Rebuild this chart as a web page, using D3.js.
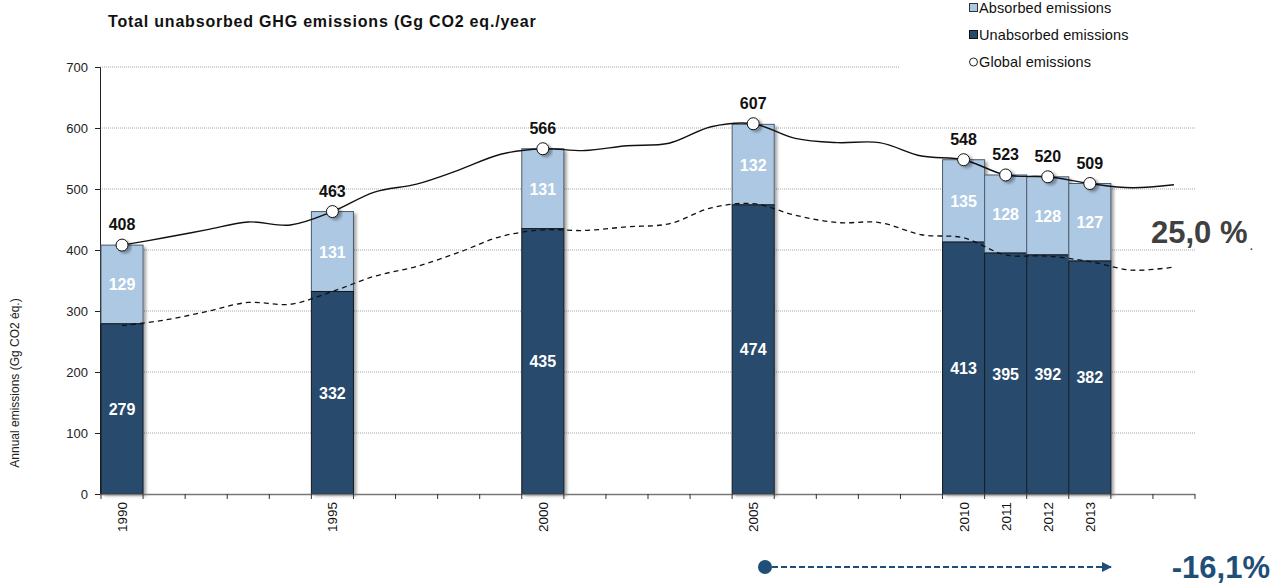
<!DOCTYPE html>
<html><head><meta charset="utf-8">
<script src="https://cdn.jsdelivr.net/npm/d3@7"></script>
<style>body{margin:0;background:#fff;} svg{display:block;font-family:"Liberation Sans",Arial,sans-serif;}</style>
</head><body>
<script>
const axisYears = [1990,1991,1992,1993,1994,1995,1996,1997,1998,1999,2000,2001,2002,2003,2004,2005,2006,2007,2008,2009,2010,2011,2012,2013,2014,2015];
const barYears = [1990,1995,2000,2005,2010,2011,2012,2013];
const unabsorbed = [279,332,435,474,413,395,392,382];
const absorbed = [129,131,131,132,135,128,128,127];
const globalTotals = [408,463,566,607,548,523,520,509];
const globalLine = [408,420,433,446,441,463,495,508,531,557,566,563,571,575,602,607,583,576,576,554,548,523,520,509,502,507];
const unabsorbedLine = [276,285,299,314,311,332,357,373,396,422,433,432,438,443,469,476,457,445,445,425,420,392,390,381,367,372];
const yTicks = [0,100,200,300,400,500,600,700];
const title = "Total unabsorbed GHG emissions (Gg CO2 eq./year";
const yTitle = "Annual emissions (Gg CO2 éq.)";
const legendItems = ["Absorbed emissions","Unabsorbed emissions","Global emissions"];
const shareText = "25,0 %";
const changeText = "-16,1%";

const W = 1272, H = 584;
const cLight = "#adc8e2", cDark = "#284a6d";
const svg = d3.select("body").append("svg").attr("width", W).attr("height", H);
const defs = svg.append("defs");
const f = defs.append("filter").attr("id","sh").attr("x","-20%").attr("y","-20%").attr("width","150%").attr("height","150%");
f.append("feDropShadow").attr("dx",3).attr("dy",2).attr("stdDeviation",1.8).attr("flood-color","#000").attr("flood-opacity",0.35);
defs.append("marker").attr("id","arr").attr("viewBox","0 0 10 10").attr("refX",10).attr("refY",5)
  .attr("markerWidth",5).attr("markerHeight",5).attr("markerUnits","strokeWidth").attr("orient","auto")
  .append("path").attr("d","M0,0L10,5L0,10Z").attr("fill","#1f4e79");

const x = d3.scaleBand().domain(axisYears).range([101,1195]).padding(0);
const y = d3.scaleLinear().domain([0,700]).range([494,67]);
const cx = d => x(d) + x.bandwidth()/2;

// gridlines
svg.append("g").selectAll("line").data(yTicks.filter(t=>t>0)).join("line")
  .attr("x1",100).attr("x2",t=> t===700 ? 900 : 1195)
  .attr("y1",t=>y(t)).attr("y2",t=>y(t))
  .attr("stroke","#a6a6a6").attr("stroke-width",1).attr("stroke-dasharray","1,1");

// y axis
const ya = svg.append("g").attr("transform","translate(100,0)")
  .call(d3.axisLeft(y).tickValues(yTicks).tickSize(5).tickPadding(7));
ya.select(".domain").attr("stroke","#222");
ya.selectAll(".tick line").attr("stroke","#222");
ya.selectAll("text").attr("font-size",13).attr("fill","#222").attr("font-family","Liberation Sans, Arial");

// bars
const bars = svg.append("g").selectAll("g").data(barYears.map((yr,i)=>({yr,u:unabsorbed[i],a:absorbed[i],t:globalTotals[i]}))).join("g");
bars.append("rect").attr("x",d=>x(d.yr)).attr("width",x.bandwidth())
  .attr("y",d=>y(d.u+d.a)).attr("height",d=>y(0)-y(d.u+d.a))
  .attr("fill","#fff").attr("filter","url(#sh)");
bars.append("rect").attr("x",d=>x(d.yr)).attr("width",x.bandwidth())
  .attr("y",d=>y(d.u+d.a)).attr("height",d=>y(d.u)-y(d.u+d.a))
  .attr("fill",cLight).attr("stroke","#4a5a6a").attr("stroke-width",1);
bars.append("rect").attr("x",d=>x(d.yr)).attr("width",x.bandwidth())
  .attr("y",d=>y(d.u)).attr("height",d=>y(0)-y(d.u))
  .attr("fill",cDark).attr("stroke","#101820").attr("stroke-width",1);
bars.append("text").attr("x",d=>cx(d.yr)).attr("y",d=>y(d.u+d.a/2)+6)
  .attr("text-anchor","middle").attr("font-size",16).attr("font-weight","bold").attr("fill","#fff").text(d=>d.a);
bars.append("text").attr("x",d=>cx(d.yr)).attr("y",d=>y(d.u/2)+6)
  .attr("text-anchor","middle").attr("font-size",16).attr("font-weight","bold").attr("fill","#fff").text(d=>d.u);

// x axis
svg.append("line").attr("x1",100).attr("x2",1195).attr("y1",494.5).attr("y2",494.5).attr("stroke","#777").attr("stroke-width",1.5);
svg.append("g").selectAll("line").data(axisYears.concat([null])).join("line")
  .attr("x1",(d,i)=> i<axisYears.length ? x(d) : 1195).attr("x2",(d,i)=> i<axisYears.length ? x(d) : 1195)
  .attr("y1",494).attr("y2",499).attr("stroke","#333");
svg.append("g").selectAll("text").data(barYears).join("text")
  .attr("transform",d=>`translate(${cx(d)+5},502) rotate(-90)`)
  .attr("text-anchor","end").attr("font-size",13.5).attr("fill","#111").text(d=>d);

// lines
const lineGen = d3.line().x((d,i)=>cx(axisYears[i])).y(d=>y(d)).curve(d3.curveCatmullRom.alpha(0.5));
svg.append("path").attr("d",lineGen(unabsorbedLine)).attr("fill","none").attr("stroke","#111").attr("stroke-width",1.3).attr("stroke-dasharray","5,4");
svg.append("path").attr("d",lineGen(globalLine)).attr("fill","none").attr("stroke","#111").attr("stroke-width",1.4);

// dots and totals
const pts = svg.append("g").selectAll("g").data(barYears.map((yr,i)=>({yr,t:globalTotals[i]}))).join("g");
pts.append("circle").attr("cx",d=>cx(d.yr)).attr("cy",d=>y(d.t)).attr("r",6)
  .attr("fill","#fff").attr("stroke","#111").attr("stroke-width",1).attr("filter","url(#sh)");
pts.append("text").attr("x",d=>cx(d.yr)).attr("y",d=>y(d.t)-15)
  .attr("text-anchor","middle").attr("font-size",16).attr("font-weight","bold").attr("fill","#111").text(d=>d.t);

// title
svg.append("text").attr("x",108).attr("y",27).attr("font-size",16).attr("letter-spacing",0.8).attr("font-weight","bold").attr("fill","#111").text(title);
// y title
svg.append("text").attr("transform","translate(19,383) rotate(-90)").attr("text-anchor","middle")
  .attr("font-size",12).attr("fill","#222").text(yTitle);

// legend
const lg = svg.append("g");
const ly = [8,35,62];
lg.append("rect").attr("x",969.5).attr("y",ly[0]-4.5).attr("width",8).attr("height",8).attr("fill",cLight).attr("stroke","#333");
lg.append("rect").attr("x",969.5).attr("y",ly[1]-4.5).attr("width",8).attr("height",8).attr("fill",cDark).attr("stroke","#111");
lg.append("circle").attr("cx",973.5).attr("cy",ly[2]).attr("r",4).attr("fill","#fff").attr("stroke","#222");
lg.selectAll("text").data(legendItems).join("text").attr("x",979).attr("y",(d,i)=>ly[i]+5)
  .attr("font-size",14.5).attr("letter-spacing",0.1).attr("fill","#111").text(d=>d);

// share annotation
svg.append("text").attr("x",1151).attr("y",243).attr("font-size",31).attr("font-weight","bold").attr("fill","#404040").text(shareText);
svg.append("text").attr("x",1250).attr("y",250).attr("font-size",10).attr("font-weight","bold").attr("fill","#404040").text(".");

// change arrow
svg.append("circle").attr("cx",765).attr("cy",567).attr("r",7).attr("fill","#1f4e79");
svg.append("line").attr("x1",772).attr("x2",1112).attr("y1",567).attr("y2",567)
  .attr("stroke","#1f4e79").attr("stroke-width",2).attr("stroke-dasharray","6,3").attr("marker-end","url(#arr)");
svg.append("text").attr("x",1270).attr("y",578).attr("text-anchor","end").attr("font-size",31).attr("font-weight","bold").attr("fill","#1f4e79").text(changeText);
</script>
</body></html>
